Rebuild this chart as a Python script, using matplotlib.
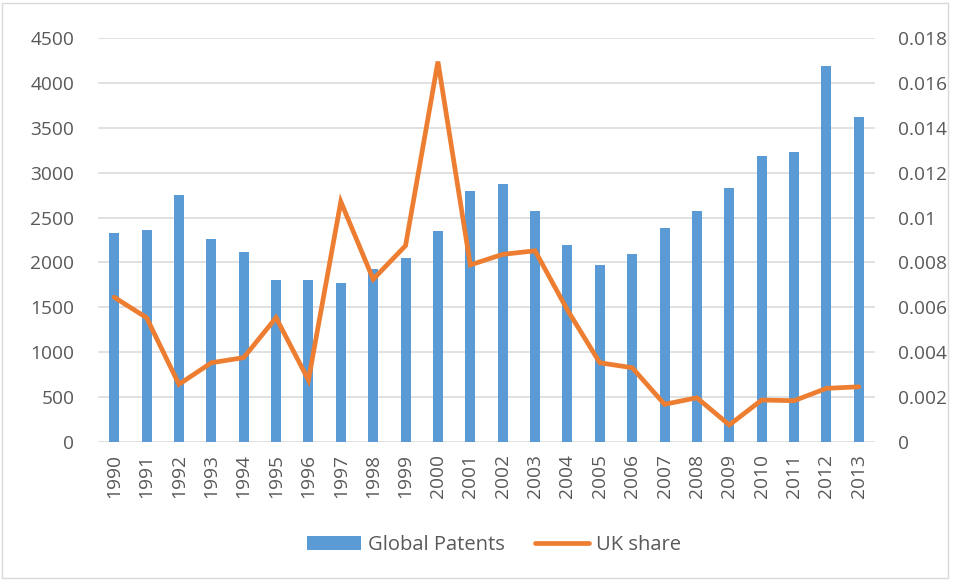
import matplotlib.pyplot as plt
import matplotlib.ticker as mticker
from matplotlib.patches import Rectangle, Patch
from matplotlib.lines import Line2D

years = [str(y) for y in range(1990, 2014)]
global_patents = [2325, 2358, 2751, 2261, 2116, 1801, 1804, 1767, 1927, 2053,
                  2350, 2796, 2874, 2573, 2191, 1968, 2098, 2384, 2573, 2826,
                  3186, 3227, 4185, 3617]
uk_share = [0.00645, 0.00554, 0.00257, 0.00353, 0.00376, 0.00554, 0.00276,
            0.01071, 0.00725, 0.00875, 0.01695, 0.00789, 0.00836, 0.00852,
            0.00588, 0.00353, 0.00331, 0.00168, 0.00197, 0.00076, 0.00187,
            0.00184, 0.00239, 0.00246]

plt.rcParams['font.family'] = ['Open Sans', 'DejaVu Sans']
txt = '#595959'
blue = '#5b9bd5'
orange = '#ed7d31'
fs = 13.8

fig = plt.figure(figsize=(9.58, 5.80), dpi=100)
ax = fig.add_axes([98/958, 1 - 442/580, (875-98)/958, (442-38)/580])
ax2 = ax.twinx()

x = list(range(len(years)))
ax.bar(x, global_patents, width=0.31, color=blue, zorder=2)
ax2.plot(x, uk_share, color=orange, linewidth=3.4, solid_capstyle='round',
         solid_joinstyle='miter', zorder=3)

ax.set_xlim(-0.5, len(years) - 0.5)
ax.set_ylim(0, 4500)
ax.set_yticks(range(0, 4501, 500))
ax2.set_ylim(0, 0.018)
ax2.set_yticks([i * 0.002 for i in range(10)])
ax2.yaxis.set_major_formatter(mticker.FuncFormatter(lambda v, p: '%g' % round(v, 4)))

ax.set_xticks(x)
ax.set_xticklabels(years, rotation=90)
ax.grid(axis='y', color='#d9d9d9', linewidth=1.1, zorder=0)
ax.set_axisbelow(True)

for a in (ax, ax2):
    for s in a.spines.values():
        s.set_visible(False)
    a.tick_params(length=0, labelsize=fs, colors=txt)
ax.tick_params(axis='y', pad=17)
ax.tick_params(axis='x', pad=9)
ax2.tick_params(axis='y', pad=16.5)

handles = [Patch(facecolor=blue), Line2D([0], [0], color=orange, linewidth=3.4,
                                         solid_capstyle='round')]
fig.legend(handles, ['Global Patents', 'UK share'], loc='center',
           bbox_to_anchor=(494/958, 1 - 545/580), ncol=2, frameon=False,
           fontsize=14.5, labelcolor=txt, handlelength=2.7, handletextpad=0.35,
           columnspacing=1.45)

fig.patches.append(Rectangle((2/958, 2/580), 946/958, 575/580, transform=fig.transFigure,
                             fill=False, edgecolor='#d9d9d9', linewidth=1))

fig.savefig('out.png', dpi=100)
